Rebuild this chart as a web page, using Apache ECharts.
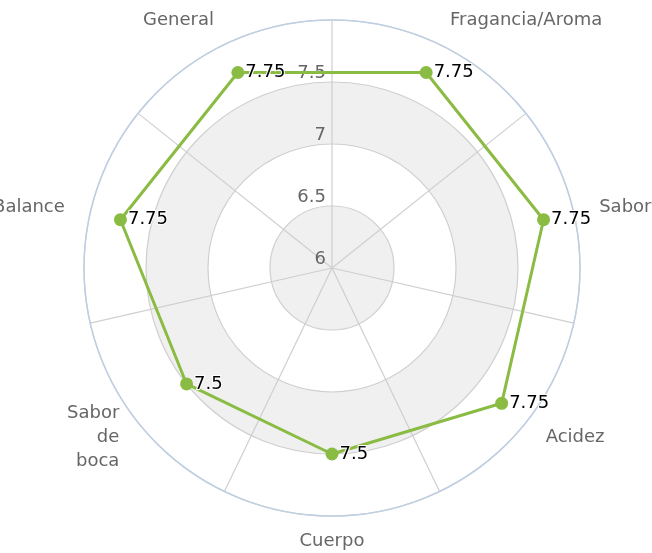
<!DOCTYPE html>
<html><head><meta charset="utf-8">
<script src="https://cdn.jsdelivr.net/npm/echarts@6/dist/echarts.min.js"></script>
<style>html,body{margin:0;padding:0;background:#fff}#c{width:652px;height:553px}</style>
</head><body><div id="c"></div>
<script>
const categories = ['Fragancia/Aroma', 'Sabor', 'Acidez', 'Cuerpo', 'Sabor\nde\nboca', 'Balance', 'General'];
const values = [7.75, 7.75, 7.75, 7.5, 7.5, 7.75, 7.75];
const radiusTicks = [6, 6.5, 7, 7.5, 8];

// label nudges (style only): [top, right, bottom, left] padding per category
const labelPads = [[0, 0, -9, 0], [0, 0, 0, 2], [-12, 0, 0, 1], [-11, 0, 0, 0], [-36, 0, 0, 0], [0, 2, 0, 0], [0, 0, -9, 0]];

const angleData = categories.map((c, i) => ({ value: c, textStyle: { padding: labelPads[i] } }));
const lineData = categories.map((c, i) => [values[i], i]);
lineData.push({ value: [values[0], 0], symbol: 'none', label: { show: false } });

const rMin = radiusTicks[0], rMax = radiusTicks[radiusTicks.length - 1];
const gridColor = '#cfcfcf';

const chart = echarts.init(document.getElementById('c'));
chart.setOption({
  animation: false,
  polar: [{ center: [332, 268], radius: 248 }, { center: [332, 268], radius: 248 }],
  angleAxis: [{
    polarIndex: 0, z: 0,
    type: 'category', data: angleData, startAngle: 90, clockwise: true, boundaryGap: true,
    axisLine: { show: false },
    axisTick: { show: false },
    splitLine: { show: false },
    axisLabel: { color: '#666', fontSize: 18, fontFamily: 'DejaVu Sans', margin: 24, lineHeight: 24 }
  }, {
    polarIndex: 1, z: 1,
    type: 'category', data: categories, startAngle: 90, clockwise: true, boundaryGap: true,
    axisLine: { show: true, lineStyle: { color: '#bfcfe3', width: 1.5 } },
    axisTick: { show: false },
    splitLine: { show: true, lineStyle: { color: gridColor, width: 1.2 } },
    axisLabel: { show: false }
  }],
  radiusAxis: [{
    polarIndex: 0, z: 0,
    type: 'value', min: rMin, max: rMax, interval: 0.5,
    axisLine: { show: false }, axisTick: { show: false },
    splitLine: { show: false },
    splitArea: { show: true, areaStyle: { color: ['#f0f0f0', '#ffffff'] } },
    axisLabel: { show: false }
  }, {
    polarIndex: 1, z: 1,
    type: 'value', min: rMin, max: rMax, interval: 0.5,
    axisLine: { show: false }, axisTick: { show: false },
    splitLine: { show: true, lineStyle: { color: gridColor, width: 1.2 } },
    splitArea: { show: false },
    axisLabel: { color: '#666', fontSize: 18, fontFamily: 'DejaVu Sans', showMaxLabel: false, align: 'right', verticalAlign: 'bottom', margin: 6 }
  }],
  series: [{
    type: 'line', coordinateSystem: 'polar', polarIndex: 0, data: lineData, z: 3,
    lineStyle: { color: '#8abb43', width: 3 },
    itemStyle: { color: '#8abb43' },
    symbol: 'circle', symbolSize: 13,
    label: { show: true, position: 'right', distance: 1, color: '#000', fontSize: 18, fontFamily: 'DejaVu Sans',
      textBorderColor: '#fff', textBorderWidth: 2, formatter: p => p.value[0] }
  }]
});
</script></body></html>
